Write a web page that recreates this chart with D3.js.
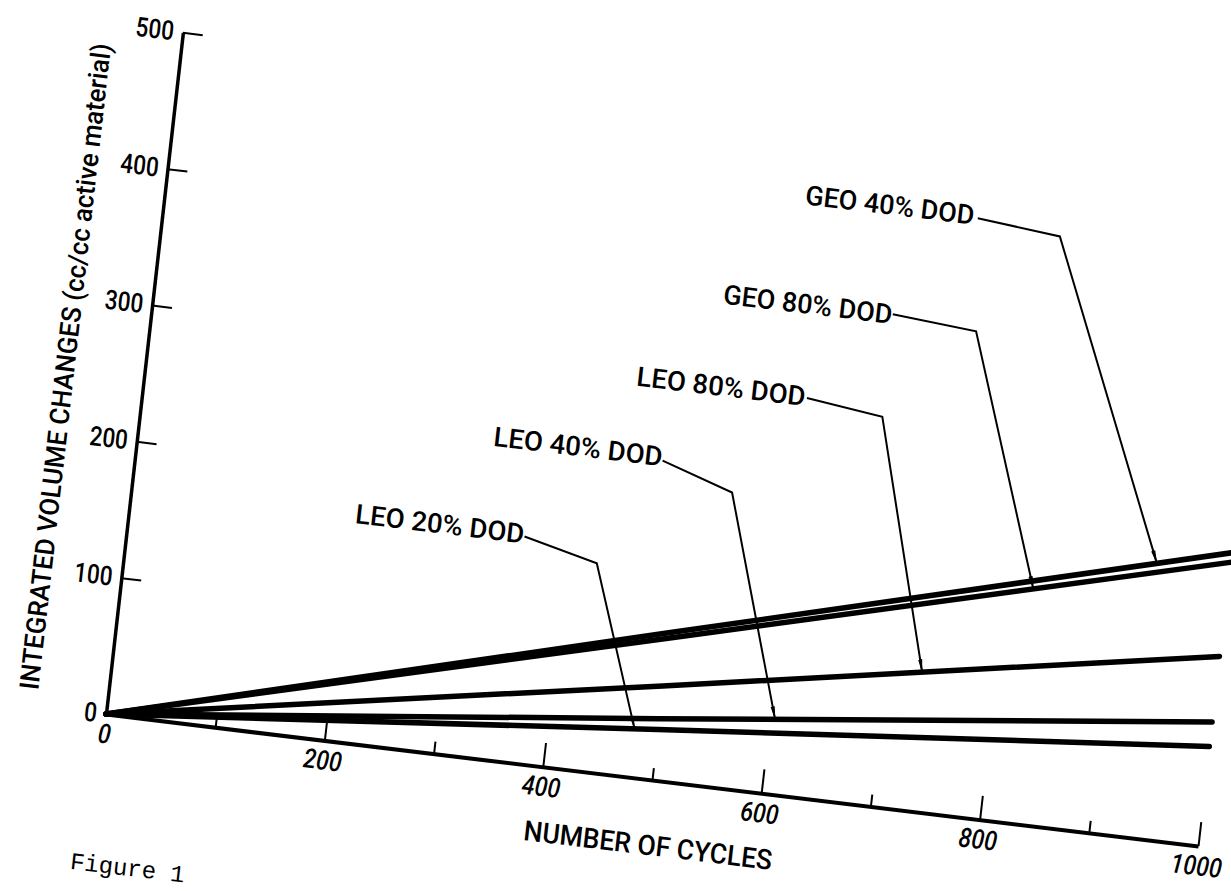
<!DOCTYPE html>
<html>
<head>
<meta charset="utf-8">
<script src="https://cdn.jsdelivr.net/npm/d3@7"></script>
<style>
  body { margin: 0; background: #fff; }
  svg { display: block; }
  text { font-family: Roboto, "DejaVu Sans", sans-serif; font-weight: 500; fill: #000; }
  text.caption { font-family: "Liberation Mono", "DejaVu Sans Mono", monospace; font-weight: 400; }
</style>
</head>
<body>
<div id="chart"></div>
<script>
const width = 1231;
const height = 891;

// values
const cycles = [0, 500, 1000];
const geo40 = [0, 108, 215];
const geo80 = [0, 104, 208];
const leo80 = [0, 69, 139];
const leo40 = [0, 45, 91];
const leo20 = [0, 37, 73];

const seriesNames = ["GEO 40% DOD", "GEO 80% DOD", "LEO 80% DOD", "LEO 40% DOD", "LEO 20% DOD"];
const seriesValues = [geo40, geo80, leo80, leo40, leo20];

const xTicks = [0, 200, 400, 600, 800, 1000];
const xMinorTicks = [100, 300, 500, 700, 900];
const yTicks = [0, 100, 200, 300, 400, 500];

// label anchors and leader lines, in data units (cycles, volume)
const labelAt = [[579, 430], [515, 351], [445, 284], [322, 228], [205, 160]];
const leaderStart = [[737, 435], [670, 358], [601, 290], [477, 232], [360, 165]];
const leaderBend = [[813, 429], [747, 353], [671, 283], [543, 215], [428, 152]];
const leaderTarget = [934, 825, 733, 605, 479];

// the scanned page is slightly turned, so the whole plot sits in a tilted frame
const origin = [106, 714];
const xTilt = 6.89 * Math.PI / 180;
const yTilt = 6.44 * Math.PI / 180;

const xScale = d3.scaleLinear().domain([0, 1000]).range([0, 1100]);
const yScale = d3.scaleLinear().domain([0, 500]).range([0, -686]);

// narrow lettering: squeeze each number to a condensed width
const digitWidth = 12.8;

const svg = d3.select("#chart")
    .append("svg")
    .attr("width", width)
    .attr("height", height);

svg.append("rect").attr("width", width).attr("height", height).attr("fill", "#fff");

svg.append("defs").append("marker")
    .attr("id", "arrow")
    .attr("viewBox", "0 0 14 6")
    .attr("refX", 13)
    .attr("refY", 3)
    .attr("markerWidth", 14)
    .attr("markerHeight", 6)
    .attr("markerUnits", "userSpaceOnUse")
    .attr("orient", "auto")
    .append("path")
    .attr("d", "M0,0.9 L14,3 L0,5.1 Z")
    .attr("fill", "#000");

const g = svg.append("g")
    .attr("transform", `matrix(${Math.cos(xTilt)},${Math.sin(xTilt)},${-Math.sin(yTilt)},${Math.cos(yTilt)},${origin[0]},${origin[1]})`);

// x axis: major ticks with labels, minor ticks without
const xAxis = g.append("g")
    .call(d3.axisBottom(xScale)
        .tickValues(xTicks)
        .tickSizeInner(-24)
        .tickSizeOuter(0)
        .tickPadding(10)
        .tickFormat(d3.format("d")));

const xMinor = g.append("g")
    .call(d3.axisBottom(xScale)
        .tickValues(xMinorTicks)
        .tickSizeInner(-12)
        .tickSizeOuter(0)
        .tickFormat(""));
xMinor.select(".domain").remove();

// y axis: ticks point into the plot, labels on the left
const yAxis = g.append("g")
    .call(d3.axisLeft(yScale)
        .tickValues(yTicks)
        .tickSizeInner(-20)
        .tickSizeOuter(0)
        .tickPadding(9)
        .tickFormat(d3.format("d")));

[xAxis, xMinor, yAxis].forEach(a => {
    a.attr("font-family", null).attr("font-size", null);
    a.selectAll(".tick line").attr("stroke", "#000").attr("stroke-width", 2);
    a.selectAll("text")
        .attr("font-size", 27)
        .attr("textLength", d => String(d).length * digitWidth)
        .attr("lengthAdjust", "spacingAndGlyphs");
});
xAxis.select(".domain").attr("stroke", "#000").attr("stroke-width", 4);
yAxis.select(".domain").attr("stroke", "#000").attr("stroke-width", 3.5);
xAxis.selectAll("text").attr("font-style", "italic");

// axis titles
g.append("text")
    .attr("transform", `translate(-70,${yScale(248)}) rotate(-90)`)
    .attr("text-anchor", "middle")
    .attr("font-size", 27)
    .attr("textLength", 650)
    .attr("lengthAdjust", "spacingAndGlyphs")
    .text("INTEGRATED VOLUME CHANGES (cc/cc active material)");

g.append("text")
    .attr("x", xScale(503))
    .attr("y", 75)
    .attr("text-anchor", "middle")
    .attr("font-size", 28)
    .attr("textLength", 250)
    .attr("lengthAdjust", "spacingAndGlyphs")
    .text("NUMBER OF CYCLES");

// data lines
const line = d3.line()
    .x((d, i) => xScale(cycles[i]))
    .y(d => yScale(d));

g.selectAll(".series")
    .data(seriesValues)
    .enter()
    .append("path")
    .attr("class", "series")
    .attr("d", line)
    .attr("fill", "none")
    .attr("stroke", "#000")
    .attr("stroke-width", 5.5)
    .attr("stroke-linecap", "round");

// labels with leader arrows
seriesNames.forEach((name, i) => {
    g.append("text")
        .attr("x", xScale(labelAt[i][0]))
        .attr("y", yScale(labelAt[i][1]))
        .attr("font-size", 27)
        .attr("textLength", 170)
        .attr("lengthAdjust", "spacingAndGlyphs")
        .text(name);

    const along = d3.scaleLinear().domain(cycles).range(seriesValues[i]);
    const tx = leaderTarget[i];
    const pts = [leaderStart[i], leaderBend[i], [tx, along(tx)]];

    g.append("path")
        .attr("d", d3.line().x(d => xScale(d[0])).y(d => yScale(d[1]))(pts))
        .attr("fill", "none")
        .attr("stroke", "#000")
        .attr("stroke-width", 2)
        .attr("marker-end", "url(#arrow)");
});

// caption at the foot of the page
g.append("text")
    .attr("class", "caption")
    .attr("x", -19)
    .attr("y", 158)
    .attr("font-size", 24)
    .text("Figure 1");
</script>
</body>
</html>
